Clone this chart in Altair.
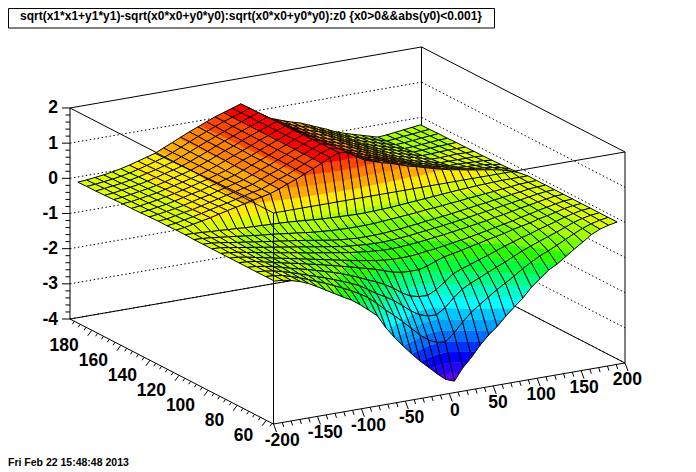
import numpy as np
import altair as alt

# surface heights in hundredths, row 0 = lowest y, column 0 = lowest x
z_rows = [
[-1,-3,-8,-15,-25,-38,-52,-66,-80,-93,-110,-130,-150,-188,-220,-248,-275,-300,-322,-345,-365,-374,-340,-315,-285,-260,-240,-215,-193,-172,-145,-125,-105,-92,-75,-58,-42,-25,-14,-7,-2],
[-1,-3,-7,-14,-22,-31,-41,-50,-61,-72,-84,-97,-112,-133,-155,-175,-197,-220,-243,-262,-273,-276,-255,-228,-205,-187,-170,-153,-138,-123,-106,-92,-78,-68,-56,-44,-32,-21,-12,-6,-2],
[-1,-3,-7,-13,-20,-28,-36,-44,-52,-61,-70,-80,-91,-106,-122,-135,-150,-168,-188,-203,-211,-212,-196,-172,-152,-139,-128,-117,-106,-96,-84,-73,-63,-54,-45,-36,-27,-17,-10,-5,-2],
[-1,-3,-7,-12,-18,-25,-31,-37,-44,-51,-58,-66,-75,-85,-96,-106,-118,-132,-150,-163,-169,-170,-158,-140,-121,-111,-103,-94,-86,-77,-68,-60,-52,-45,-37,-30,-23,-15,-9,-4,-2],
[-1,-3,-6,-12,-17,-23,-28,-33,-39,-44,-50,-56,-62,-68,-75,-81,-88,-96,-104,-109,-110,-110,-104,-94,-86,-81,-76,-70,-65,-59,-54,-49,-42,-37,-32,-25,-20,-14,-8,-4,-2],
[-1,-3,-7,-12,-17,-22,-27,-32,-37,-42,-47,-52,-57,-62,-67,-72,-76,-80,-83,-85,-85,-85,-82,-79,-76,-72,-68,-64,-60,-55,-50,-45,-40,-35,-29,-24,-18,-13,-8,-4,-2],
[-1,-3,-6,-11,-15,-20,-24,-29,-33,-37,-42,-46,-50,-54,-58,-62,-65,-68,-70,-72,-72,-71,-69,-67,-64,-61,-58,-54,-51,-47,-43,-39,-34,-30,-25,-20,-16,-11,-7,-3,-2],
[-1,-2,-6,-10,-14,-18,-22,-26,-30,-34,-38,-42,-46,-50,-54,-58,-61,-63,-65,-66,-66,-65,-63,-61,-58,-55,-52,-49,-45,-42,-38,-34,-30,-26,-22,-18,-14,-10,-6,-3,-2],
[-1,-2,-5,-9,-13,-16,-20,-23,-27,-30,-34,-37,-41,-45,-49,-53,-56,-58,-60,-60,-60,-59,-57,-55,-52,-49,-46,-43,-40,-37,-33,-30,-26,-23,-19,-16,-12,-9,-5,-3,-2],
[-1,-2,-4,-7,-10,-13,-16,-19,-22,-24,-27,-30,-33,-36,-39,-41,-43,-44,-45,-45,-45,-44,-42,-40,-38,-36,-34,-31,-29,-27,-24,-22,-19,-17,-14,-12,-9,-7,-4,-3,-2],
[0,-1,-2,-4,-5,-7,-8,-10,-11,-12,-13,-14,-15,-17,-19,-21,-23,-24,-25,-26,-27,-27,-26,-25,-24,-22,-20,-18,-16,-14,-12,-10,-8,-7,-5,-4,-3,-2,-2,-2,-2],
[0,3,8,13,18,24,30,35,41,47,52,57,66,76,85,96,107,118,130,140,136,120,106,98,90,84,76,68,62,55,48,42,36,32,27,23,19,15,10,3,-6],
[-1,2,7,12,17,23,29,34,40,46,52,57,66,76,85,96,107,118,130,139,134,114,101,93,85,79,71,62,56,48,40,34,27,23,17,13,10,7,4,-1,-8],
[-1,1,6,11,15,21,27,33,39,45,51,57,67,77,86,97,108,118,129,139,132,109,97,89,80,74,66,57,50,42,33,26,20,15,9,4,2,1,-1,-5,-9],
[-2,1,5,9,14,20,26,31,38,44,51,57,67,77,86,97,108,118,129,138,130,105,94,86,77,70,62,53,45,37,28,20,14,8,2,-4,-4,-5,-6,-7,-10],
[-3,0,4,8,13,19,25,30,37,43,50,57,67,77,87,97,108,118,129,138,128,103,91,83,74,67,60,51,42,33,24,16,9,3,-3,-9,-9,-9,-9,-9,-11],
[-4,-1,3,7,12,17,23,29,36,42,50,57,67,78,87,98,108,118,128,137,126,101,90,82,73,66,58,49,40,31,21,13,7,1,-6,-12,-12,-11,-10,-11,-11],
[-4,-2,2,6,10,16,22,28,34,41,49,58,68,78,88,98,109,118,128,137,124,99,88,80,71,64,57,47,38,29,19,11,4,-2,-9,-15,-14,-13,-12,-12,-12],
[-5,-3,1,5,9,14,20,27,33,40,49,58,68,79,88,99,109,118,127,136,123,98,87,79,70,62,55,46,36,27,17,8,2,-5,-11,-18,-17,-15,-14,-13,-12],
[-6,-4,0,4,8,13,19,26,32,39,48,58,68,79,89,99,109,118,127,136,121,96,85,77,68,61,54,44,34,25,14,6,-1,-8,-14,-21,-20,-18,-16,-14,-13],
[-7,-4,-1,2,7,12,18,24,31,38,48,58,69,79,89,99,109,118,127,135,119,95,84,76,67,59,52,43,33,23,12,4,-3,-10,-17,-23,-22,-20,-17,-15,-13],
[-7,-5,-2,1,5,10,16,23,30,37,47,58,69,80,90,100,110,118,126,135,117,93,83,75,66,58,51,41,31,21,11,2,-5,-12,-19,-26,-24,-21,-19,-16,-14],
[-8,-6,-3,0,4,9,15,22,29,36,47,58,69,80,90,100,110,118,126,134,115,92,82,74,65,57,50,40,30,20,9,0,-7,-14,-21,-28,-26,-23,-20,-17,-14],
]
band_colors = ["#6400ff","#2800ff","#0000ff","#0032ff","#006eff","#00a0ff","#00c8ff","#00ffff",
               "#00ffc8","#00ff82","#00ff3c","#28ff00","#78ff00","#aaff00","#dcff00","#ffeb00",
               "#ffaa00","#ff8200","#ff4600","#ff0000"]
x_labels = [-200,-150,-100,-50,0,50,100,150,200]
y_labels = [60,80,100,120,140,160,180]
z_labels = [-4,-3,-2,-1,0,1,2]
title_text = "sqrt(x1*x1+y1*y1)-sqrt(x0*x0+y0*y0):sqrt(x0*x0+y0*y0):z0 {x0>0&&abs(y0)<0.001}"
date_text = "Fri Feb 22 15:48:48 2013"

X0, X1, Y0, Y1, Z0 = -200, 200, 55, 195, -4
W, H = 680, 460

def proj(x, y, z):
    fx = (x - X0) / (X1 - X0)
    fy = (y - Y0) / (Y1 - Y0)
    return (273.5 + 351.5 * fx - 203.5 * fy - 8,
            424 - 61 * fx - 105 * fy - 35.17 * (z - Z0) - 8)

Z = np.array(z_rows, dtype=float) / 100
ny, nx = Z.shape
x_nodes = np.linspace(-195, 195, nx)
y_nodes = np.linspace(57.4, 192.6, ny)
levels = [-99] + [-3.8 + 0.2625 * k for k in range(1, 20)] + [99]

def clip(poly, level, keep_above):
    out = []
    for a, b in zip(poly, poly[1:] + poly[:1]):
        ina = (a[2] >= level) == keep_above
        inb = (b[2] >= level) == keep_above
        if ina:
            out.append(a)
        if ina != inb:
            t = (level - a[2]) / (b[2] - a[2])
            out.append(tuple(a[k] + t * (b[k] - a[k]) for k in range(3)))
    return out

def feature(points, fill, stroke, w):
    ring = [[round(p[0], 2), round(p[1], 2)] for p in points]
    ring.append(ring[0])
    return {"type": "Feature", "geometry": {"type": "Polygon", "coordinates": [ring]},
            "properties": {"f": fill, "s": stroke, "w": w}}

features = []
for j in range(ny - 2, -1, -1):
    for i in range(nx - 2, -1, -1):
        quad = []
        for (jj, ii) in ((j, i), (j, i + 1), (j + 1, i + 1), (j + 1, i)):
            px, py = proj(x_nodes[ii], y_nodes[jj], Z[jj, ii])
            quad.append((px, py, Z[jj, ii]))
        zs = [q[2] for q in quad]
        for b, col in enumerate(band_colors):
            if max(zs) < levels[b] or min(zs) > levels[b + 1]:
                continue
            poly = clip(clip(quad, levels[b], True), levels[b + 1], False)
            if len(poly) >= 3:
                features.append(feature(poly, col, col, 0.4))
        features.append(feature(quad, "transparent", "#000000", 1.0))

surface = alt.Chart(alt.Data(values=features)).mark_geoshape().encode(
    fill=alt.Fill("properties.f:N", scale=None),
    stroke=alt.Stroke("properties.s:N", scale=None),
    strokeWidth=alt.StrokeWidth("properties.w:Q", scale=None),
).project(type="identity", scale=1, translate=[0, 0])

sx = alt.Scale(domain=[0, W], range=[0, W], nice=False, zero=False)
sy = alt.Scale(domain=[0, H], range=[0, H], nice=False, zero=False)

def seg(a, b):
    return {"x": a[0], "y": a[1], "x2": b[0], "y2": b[1]}

def rules(rows, **mark):
    return alt.Chart(alt.Data(values=rows)).mark_rule(color="black", **mark).encode(
        x=alt.X("x:Q", scale=sx, axis=None), y=alt.Y("y:Q", scale=sy, axis=None),
        x2="x2:Q", y2="y2:Q")

A, F, R = (X0, Y1), (X0, Y0), (X1, Y0)
B = (X1, Y1)
zt = 2
back = [seg(proj(*A, Z0), proj(*B, Z0)), seg(proj(*B, Z0), proj(*R, Z0)),
        seg(proj(*A, zt), proj(*B, zt)), seg(proj(*B, zt), proj(*R, zt)),
        seg(proj(*B, Z0), proj(*B, zt)), seg(proj(*R, Z0), proj(*R, zt))]
dotted = []
for z in z_labels[:-1]:
    dotted.append(seg(proj(*A, z), proj(*B, z)))
    dotted.append(seg(proj(*B, z), proj(*R, z)))
front = [seg(proj(*A, zt), proj(*F, zt)), seg(proj(*F, zt), proj(*R, zt)),
         seg(proj(*F, Z0), proj(*F, zt)), seg(proj(*A, Z0), proj(*A, zt)),
         seg(proj(*A, Z0), proj(*F, Z0)), seg(proj(*F, Z0), proj(*R, Z0))]

ticks = []
for v in range(-200, 201, 10):
    p = proj(v, Y0, Z0)
    m = v % 50 == 0
    ticks.append(seg(p, (p[0] + (3 if m else 1.5), p[1] + (8 if m else 4.5))))
for v in range(56, 195, 4):
    p = proj(X0, v, Z0)
    m = (v - 60) % 20 == 0
    ticks.append(seg(p, (p[0] - (4 if m else 2), p[1] + (5.5 if m else 3))))
for k in range(0, 31):
    z = Z0 + k * 0.2
    p = proj(X0, Y1, z)
    m = k % 5 == 0
    ticks.append(seg(p, (p[0] - (8 if m else 4.5), p[1])))

box_top, box_l, box_r = 20, 0.5, 486.5
title_rows = [
    seg((box_l, 0.5), (box_r, 0.5)), seg((box_l, box_top), (box_r, box_top)),
    seg((box_l, 0.5), (box_l, box_top)), seg((box_r, 0.5), (box_r, box_top)),
]

def texts(rows, size=17.5, **mark):
    return alt.Chart(alt.Data(values=rows)).mark_text(
        font="Liberation Sans", fontWeight="bold", fontSize=size, color="black", baseline="middle", **mark
    ).encode(x=alt.X("x:Q", scale=sx, axis=None), y=alt.Y("y:Q", scale=sy, axis=None), text="t:N")

xt = []
for v in x_labels:
    p = proj(v, Y0, Z0)
    xt.append({"x": p[0] + 5.5 - 0.016 * v, "y": p[1] + 17, "t": str(v)})
yt = []
for v in y_labels:
    p = proj(X0, v, Z0)
    yt.append({"x": p[0] - 13, "y": p[1] + 16, "t": str(v)})
zl = []
for v in z_labels:
    p = proj(X0, Y1, v)
    zl.append({"x": p[0] - 12, "y": p[1] + 0.5, "t": str(v)})

chart = alt.layer(
    rules(dotted, strokeDash=[1.5, 2.5], strokeWidth=1),
    rules(back, strokeWidth=1),
    surface,
    rules(front, strokeWidth=1),
    rules(ticks, strokeWidth=1),
    rules(title_rows, strokeWidth=1),
    texts(xt, align="center"),
    texts(yt, align="right"),
    texts(zl, align="right"),
    texts([{"x": (box_l + box_r) / 2 - 0.5, "y": 7.5, "t": title_text}], size=12, align="center"),
    texts([{"x": 0, "y": 455, "t": date_text}], size=10.5, align="left"),
).properties(width=W, height=H, padding=0, autosize=alt.AutoSizeParams(type="none")).configure_view(stroke=None)

chart.save("out.html", embed_options={"renderer": "svg", "actions": False})
